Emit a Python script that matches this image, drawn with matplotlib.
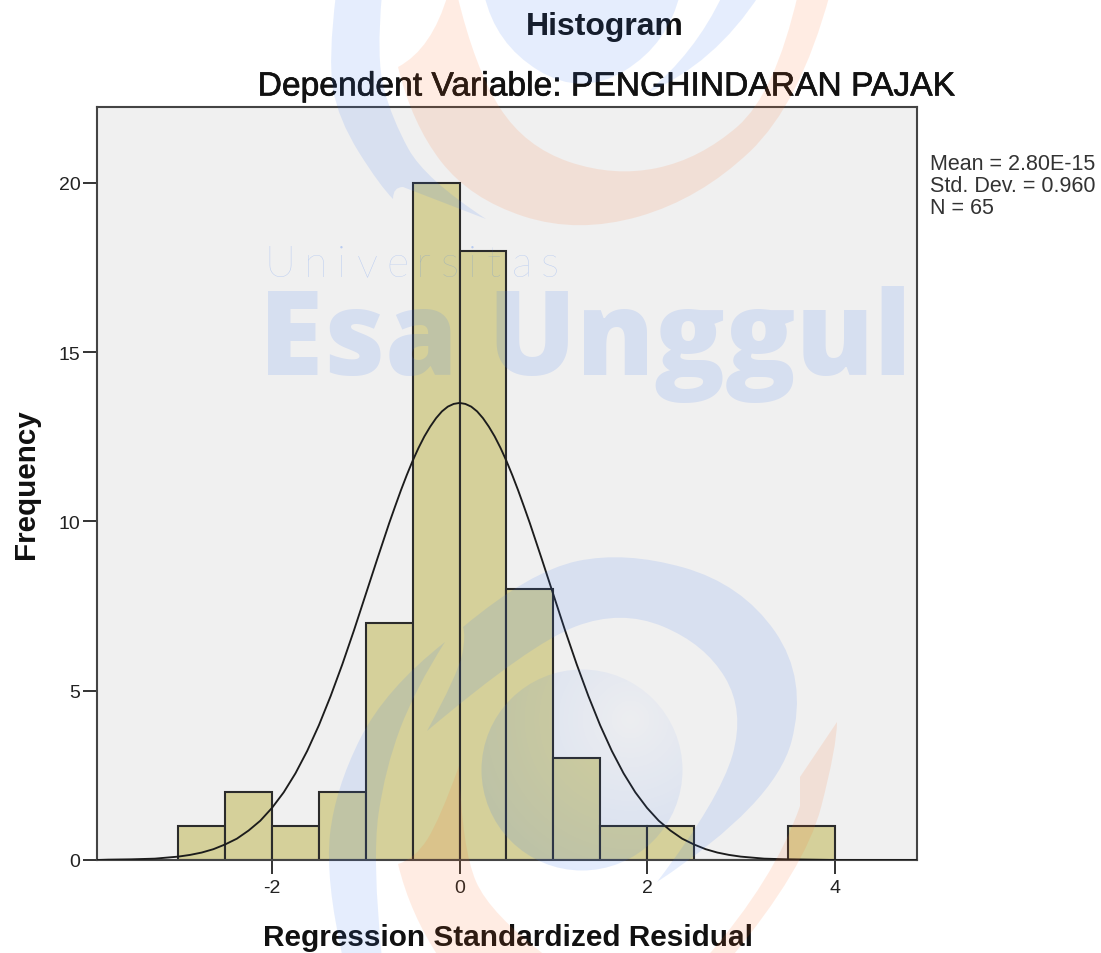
import numpy as np
import matplotlib
matplotlib.use("Agg")
import matplotlib.patheffects as pe
import matplotlib.pyplot as plt
from matplotlib.patches import Circle, PathPatch
from matplotlib.path import Path

W, H = 1101, 954

bin_edges = [-3.0, -2.5, -2.0, -1.5, -1.0, -0.5, 0.0, 0.5, 1.0, 1.5, 2.0, 2.5, 3.0, 3.5, 4.0]
counts = [1, 2, 1, 2, 7, 20, 18, 8, 3, 1, 1, 0, 0, 1]

curve_x = [-3.867, -3.75, -3.5, -3.25, -3.0, -2.875, -2.75, -2.625, -2.5, -2.375, -2.25, -2.125, -2.0,
           -1.875, -1.75, -1.625, -1.5, -1.375, -1.25, -1.125, -1.0, -0.875, -0.75, -0.6875, -0.625, -0.5625,
           -0.5, -0.4375, -0.375, -0.3125, -0.25, -0.1875, -0.125, -0.0625, 0.0, 0.0625, 0.125, 0.1875, 0.25,
           0.3125, 0.375, 0.4375, 0.5, 0.5625, 0.625, 0.6875, 0.75, 0.875, 1.0,
           1.125, 1.25, 1.375, 1.5, 1.625, 1.75, 1.875, 2.0, 2.125, 2.25, 2.375, 2.5, 2.625,
           2.75, 2.875, 3.0, 3.25, 3.5, 3.75, 4.0, 4.5, 4.88]
curve_y = [0.0, 0.01, 0.02, 0.04, 0.10, 0.15, 0.22, 0.32, 0.46, 0.63, 0.87, 1.16, 1.54,
           2.00, 2.56, 3.22, 3.98, 4.84, 5.78, 6.79, 7.85, 8.91, 9.95, 10.44, 10.92, 11.37,
           11.79, 12.17, 12.51, 12.80, 13.05, 13.25, 13.39, 13.47, 13.50, 13.47, 13.39, 13.25, 13.05,
           12.80, 12.51, 12.17, 11.79, 11.37, 10.92, 10.44, 9.95, 8.91, 7.85,
           6.79, 5.78, 4.84, 3.98, 3.22, 2.56, 2.00, 1.54, 1.16, 0.87, 0.63, 0.46, 0.32,
           0.22, 0.15, 0.10, 0.04, 0.02, 0.01, 0.0, 0.0, 0.0]

x_ticks = [-2, 0, 2, 4]
x_tick_labels = ["-2", "0", "2", "4"]
y_ticks = [0, 5, 10, 15, 20]
stats_lines = ["Mean = 2.80E-15", "Std. Dev. = 0.960", "N = 65"]

BLUE = "#3a78f0"
ORANGE = "#ff6a20"

univ_letters = list("Universitas")
univ_px = [264, 304, 337, 357, 386, 416, 441, 468, 487, 512, 541]


def px_axes(fig, left, top, right, bottom):
    return fig.add_axes([left / W, 1 - bottom / H, (right - left) / W, (bottom - top) / H])


def shape_from_edges(edges):
    # each edge is a polyline rounded with quadratic segments, corners stay sharp where edges meet
    verts, codes = [], []
    for edge in edges:
        pts = np.array(edge, dtype=float)
        verts.append(pts[0])
        codes.append(Path.LINETO if verts[1:] else Path.MOVETO)
        for i in range(1, len(pts) - 1):
            end = pts[i + 1] if i == len(pts) - 2 else (pts[i] + pts[i + 1]) / 2
            verts += [pts[i], end]
            codes += [Path.CURVE3, Path.CURVE3]
    verts.append(verts[0])
    codes.append(Path.CLOSEPOLY)
    return Path(verts, codes)


def add_shape(ax, edges, color, alpha=0.13):
    ax.add_patch(PathPatch(shape_from_edges(edges), fc=color, ec="none", alpha=alpha))


def draw_watermark(fig):
    ov = fig.add_axes([0, 0, 1, 1], zorder=10)
    ov.axis("off")
    ov.patch.set_alpha(0)

    # top swirl
    add_shape(ov, [[(484, -5), (495, 45), (582, 98), (668, 45), (680, -5)]], BLUE)
    add_shape(ov, [[(336, -5), (328, 60), (338, 120), (380, 187), (393, 200)],
                   [(393, 200), (393, 188), (403, 188)],
                   [(403, 188), (486, 220)],
                   [(486, 220), (425, 180), (392, 120), (376, 60), (382, -5)]], BLUE)
    add_shape(ov, [[(760, -5), (715, 65), (645, 95)],
                   [(645, 95), (695, 55), (723, -5)]], BLUE)
    add_shape(ov, [[(448, -5), (432, 50), (398, 68)],
                   [(398, 68), (412, 125), (470, 200), (578, 235), (700, 200), (800, 105), (830, -5)],
                   [(798, -5), (775, 95), (700, 160), (614, 178), (525, 148), (475, 70), (457, -5)]],
              ORANGE, 0.12)

    # bottom swirl
    add_shape(ov, [[(427, 732), (458, 675), (466, 637), (463, 628)],
                   [(463, 628), (530, 572), (625, 552), (742, 585), (808, 680), (775, 805), (657, 883)],
                   [(657, 883), (720, 800), (745, 712), (705, 645), (621, 610), (530, 645), (427, 732)]], BLUE)
    add_shape(ov, [[(445, 643), (385, 690), (335, 790), (325, 880), (343, 960)],
                   [(382, 960), (372, 860), (385, 770), (415, 690), (445, 643)]], BLUE)
    add_shape(ov, [[(459, 767), (440, 820), (415, 860), (398, 865)],
                   [(398, 865), (410, 915), (440, 960)],
                   [(550, 960), (490, 915), (462, 850), (459, 767)]], ORANGE, 0.12)
    add_shape(ov, [[(837, 723), (800, 778)],
                   [(800, 778), (800, 807)],
                   [(800, 807), (775, 880), (705, 960)],
                   [(730, 960), (805, 870), (837, 747), (837, 723)]], ORANGE, 0.12)

    # sphere, fading out towards its highlight
    yy, xx = np.mgrid[665:880, 478:688]
    dist = np.hypot(xx - 630, yy - 720)
    rgba = np.zeros(xx.shape + (4,))
    rgba[..., :3] = matplotlib.colors.to_rgb(BLUE)
    rgba[..., 3] = np.clip(0.02 + dist / 160 * 0.13, 0, 0.15)
    img = ov.imshow(rgba, extent=(478, 688, 880, 665), interpolation="bilinear", aspect="auto")
    img.set_clip_path(Circle((582, 771), 100.5, transform=ov.transData))
    ov.set_xlim(0, W)
    ov.set_ylim(H, 0)

    # wordmark
    add_shape(ov, [[(0, 282), (24, 282)], [(24, 375), (0, 375)]], BLUE)
    ov.text(259, 375, "Esa Unggul", family="Open Sans", weight=800, fontsize=84, color=BLUE, alpha=0.14,
            ha="left", va="baseline")
    for letter, px in zip(univ_letters, univ_px):
        ov.text(px, 277, letter, family="Lato", weight="light", fontsize=31, color=BLUE, alpha=0.3,
                ha="left", va="baseline")


plt.rcParams["font.family"] = ["Liberation Sans", "DejaVu Sans"]

fig = plt.figure(figsize=(W / 100, H / 100), dpi=100, facecolor="white")
ax = px_axes(fig, 97, 108, 917, 861)
ax.set_facecolor("#f0f0f0")

lefts = bin_edges[:-1]
widths = np.diff(bin_edges)
ax.bar(lefts, counts, width=widths, align="edge", color="#d5d09a", edgecolor="#2b2b2b", linewidth=1.5, zorder=2)
ax.plot(curve_x, curve_y, color="#1c1c1c", lw=1.35, zorder=3)

ax.set_xlim(-3.867, 4.88)
ax.set_ylim(0, 22.24)
ax.set_xticks(x_ticks)
ax.set_xticklabels(x_tick_labels)
ax.set_yticks(y_ticks)
ax.tick_params(axis="both", length=10, width=1.4, color="#333333", labelsize=14, labelcolor="#222222", pad=2)
ax.tick_params(axis="x", pad=4)
for spine in ax.spines.values():
    spine.set_color("#444444")
    spine.set_linewidth(1.5)

fig.text(605 / W, 1 - 27 / H, "Histogram", ha="center", va="center", fontsize=23, weight="bold", color="#111111")
fig.text(606 / W, 1 - 88 / H, "Dependent Variable: PENGHINDARAN PAJAK", ha="center", va="center",
         fontsize=24.2, color="#111111", path_effects=[pe.withStroke(linewidth=0.45, foreground="#111111")])
fig.text(26 / W, 1 - 484 / H, "Frequency", rotation=90, ha="center", va="center", fontsize=21.3, weight="bold",
         color="#111111")
fig.text(508 / W, 1 - 938 / H, "Regression Standardized Residual", ha="center", va="center", fontsize=21.4,
         weight="bold", color="#111111")
for i, line in enumerate(stats_lines):
    fig.text(930 / W, 1 - (165 + 22 * i) / H, line, ha="left", va="center", fontsize=15.5, color="#333333")

draw_watermark(fig)

fig.savefig("out.png", dpi=100, facecolor="white")
